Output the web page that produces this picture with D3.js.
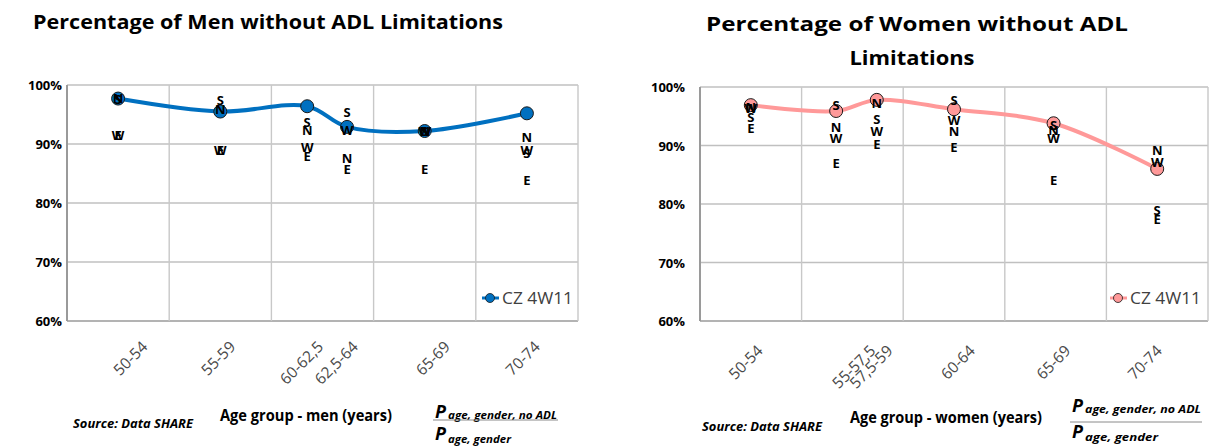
<!DOCTYPE html>
<html>
<head>
<meta charset="utf-8">
<script src="https://cdn.jsdelivr.net/npm/d3@7"></script>
<style>
  html, body { margin: 0; padding: 0; background: #fff; }
  svg { display: block; font-family: "Open Sans", "Liberation Sans", sans-serif; }
</style>
</head>
<body>
<svg id="chart" width="1220" height="448"></svg>
<script>
// ---------- data ----------
const yTicks = [60, 70, 80, 90, 100];
const xGrid = [50, 55, 60, 65, 70, 75];
const seriesName = "CZ 4W11";

// Men
const menGroups   = ["50-54", "55-59", "60-62,5", "62,5-64", "65-69", "70-74"];
const menAgeMid   = [52.5, 57.5, 61.75, 63.7, 67.5, 72.5];
const menLabelAt  = [53.8, 58.1, 62.4, 64.1, 68.6, 73.0];
const menShare    = [97.7, 95.5, 96.4, 92.9, 92.2, 95.2];
const menNorth    = [97.8, 95.9, 92.4, 87.6, 92.2, 91.2];
const menSouth    = [97.6, 97.5, 93.8, 95.5, 92.2, 88.5];
const menWest     = [91.5, 89.0, 89.5, 92.4, 92.2, 89.0];
const menEast     = [91.5, 89.0, 88.0, 85.8, 85.8, 83.9];

// Women
const womenGroups  = ["50-54", "55-57,5", "57,5-59", "60-64", "65-69", "70-74"];
const womenAgeMid  = [52.5, 56.7, 58.7, 62.5, 67.4, 72.5];
const womenLabelAt = [52.95, 58.5, 59.35, 63.4, 68.1, 72.6];
const womenShare   = [96.9, 95.9, 97.8, 96.2, 93.8, 86.0];
const womenNorth   = [96.6, 93.2, 97.3, 92.4, 92.6, 89.2];
const womenSouth   = [94.9, 96.9, 94.5, 97.8, 93.5, 79.0];
const womenWest    = [96.4, 91.3, 92.4, 94.4, 91.2, 87.2];
const womenEast    = [93.0, 87.0, 90.3, 89.7, 84.1, 77.4];

const regionLetters = ["N", "S", "W", "E"];

// ---------- drawing ----------
const svg = d3.select("#chart");

function drawChart(cfg) {
  const g = svg.append("g");
  const x = d3.scaleLinear().domain([50, 75]).range([cfg.left, cfg.right]);
  const y = d3.scaleLinear().domain([60, 100]).range([cfg.bottom, cfg.top]);

  // horizontal grid
  g.selectAll(".hg").data(yTicks).join("line")
    .attr("x1", cfg.left).attr("x2", cfg.right)
    .attr("y1", d => y(d)).attr("y2", d => y(d))
    .attr("stroke", d => d === 60 ? "#9a9a9a" : "#c0c0c0").attr("stroke-width", 1.4);
  // vertical grid
  g.selectAll(".vg").data(xGrid).join("line")
    .attr("x1", d => x(d)).attr("x2", d => x(d))
    .attr("y1", cfg.top).attr("y2", cfg.bottom)
    .attr("stroke", d => d === 50 ? "#9a9a9a" : "#c8c8c8").attr("stroke-width", d => d === 50 ? 2 : 1.4);

  // y tick labels
  g.selectAll(".yl").data(yTicks).join("text")
    .attr("x", cfg.yLabelX).attr("y", d => y(d) + 5)
    .attr("text-anchor", "end").attr("font-size", 13).attr("font-weight", 700)
    .attr("fill", "#000").text(d => d + "%");

  // x category labels (rotated)
  g.selectAll(".xl").data(cfg.groups).join("text")
    .attr("transform", (d, i) => `translate(${x(cfg.labelAt[i])},${cfg.labelY}) rotate(-45)`)
    .attr("text-anchor", "end").attr("dy", "0.35em").attr("font-size", 15.5)
    .attr("fill", "#4a4a4a").text(d => d);

  // line
  const pts = cfg.mid.map((m, i) => [x(m), y(cfg.share[i])]);
  g.append("path")
    .attr("d", d3.line().curve(d3.curveCatmullRom.alpha(0.5))(pts))
    .attr("fill", "none").attr("stroke", cfg.color).attr("stroke-width", 4);

  // markers
  g.selectAll(".mk").data(pts).join("circle")
    .attr("cx", d => d[0]).attr("cy", d => d[1]).attr("r", 6.5)
    .attr("fill", cfg.color).attr("stroke", "#1a1a1a").attr("stroke-width", 1);

  // region letters
  const regionVals = [cfg.north, cfg.south, cfg.west, cfg.east];
  regionVals.forEach((vals, r) => {
    g.selectAll(".rl" + r).data(vals).join("text")
      .attr("x", (d, i) => x(cfg.mid[i])).attr("y", d => y(d))
      .attr("dominant-baseline", "central").attr("text-anchor", "middle")
      .attr("font-size", 13).attr("font-weight", 700).attr("fill", "#000")
      .text(regionLetters[r]);
  });

  // legend
  const lg = g.append("g");
  lg.append("line").attr("x1", cfg.legX - 8).attr("x2", cfg.legX + 9)
    .attr("y1", cfg.legY).attr("y2", cfg.legY)
    .attr("stroke", cfg.color).attr("stroke-width", 3);
  lg.append("circle").attr("cx", cfg.legX).attr("cy", cfg.legY).attr("r", 4.5)
    .attr("fill", cfg.color).attr("stroke", "#1a1a1a").attr("stroke-width", 0.8);
  lg.append("text").attr("x", cfg.legX + 12).attr("y", cfg.legY + 6)
    .attr("font-size", 16).attr("fill", "#404040")
    .attr("textLength", 71).attr("lengthAdjust", "spacingAndGlyphs").text(seriesName);

  // titles
  cfg.title.forEach(t => {
    g.append("text").attr("x", t.x).attr("y", t.y).attr("text-anchor", "middle")
      .attr("font-size", 20).attr("font-weight", 700).attr("fill", "#000")
      .attr("textLength", t.w).attr("lengthAdjust", "spacingAndGlyphs").text(t.text);
  });

  // axis title
  g.append("text").attr("x", cfg.axTitle.x).attr("y", cfg.axTitle.y)
    .attr("font-size", 16).attr("font-weight", 700).attr("fill", "#000")
    .attr("textLength", cfg.axTitle.w).attr("lengthAdjust", "spacingAndGlyphs").text(cfg.axTitle.text);

  // source
  g.append("text").attr("x", cfg.src.x).attr("y", cfg.src.y)
    .attr("font-size", 12).attr("font-weight", 700).attr("font-style", "italic").attr("fill", "#000")
    .attr("textLength", 120).attr("lengthAdjust", "spacingAndGlyphs").text("Source: Data SHARE");

  // formula
  const f = cfg.formula;
  g.append("text").attr("x", f.x).attr("y", f.y1)
    .attr("font-size", 18).attr("font-weight", 700).attr("font-style", "italic").text("P");
  g.append("text").attr("x", f.x + 13).attr("y", f.y1 + 1)
    .attr("font-size", 11).attr("font-weight", 700).attr("font-style", "italic")
    .attr("textLength", f.w1).attr("lengthAdjust", "spacingAndGlyphs").text("age, gender, no ADL");
  g.append("line").attr("x1", f.x - 2).attr("x2", f.x + 13 + f.w1 + 1)
    .attr("y1", f.ly).attr("y2", f.ly).attr("stroke", "#8a8a8a").attr("stroke-width", 1);
  g.append("text").attr("x", f.x).attr("y", f.y2)
    .attr("font-size", 18).attr("font-weight", 700).attr("font-style", "italic").text("P");
  g.append("text").attr("x", f.x + 13).attr("y", f.y2 + 3)
    .attr("font-size", 11).attr("font-weight", 700).attr("font-style", "italic")
    .attr("textLength", f.w2).attr("lengthAdjust", "spacingAndGlyphs").text("age, gender");
}

drawChart({
  left: 67, right: 578, top: 85, bottom: 321,
  yLabelX: 62, labelY: 344,
  groups: menGroups, labelAt: menLabelAt, mid: menAgeMid, share: menShare,
  north: menNorth, south: menSouth, west: menWest, east: menEast,
  color: "#0070C0",
  legX: 490, legY: 298,
  title: [{ text: "Percentage of Men without ADL Limitations", x: 268, y: 29, w: 470 }],
  axTitle: { text: "Age group - men (years)", x: 220, y: 421, w: 172 },
  src: { x: 73, y: 428 },
  formula: { x: 435, y1: 418, ly: 420, y2: 440, w1: 109, w2: 63 }
});

drawChart({
  left: 700, right: 1208, top: 87, bottom: 321,
  yLabelX: 685, labelY: 348,
  groups: womenGroups, labelAt: womenLabelAt, mid: womenAgeMid, share: womenShare,
  north: womenNorth, south: womenSouth, west: womenWest, east: womenEast,
  color: "#FF9999",
  legX: 1118, legY: 298,
  title: [
    { text: "Percentage of Women without ADL", x: 917, y: 31, w: 422 },
    { text: "Limitations", x: 912, y: 65, w: 125 }
  ],
  axTitle: { text: "Age group - women (years)", x: 850, y: 423, w: 192 },
  src: { x: 702, y: 431 },
  formula: { x: 1072, y1: 412, ly: 422, y2: 438, w1: 116, w2: 73 }
});
</script>
</body>
</html>
